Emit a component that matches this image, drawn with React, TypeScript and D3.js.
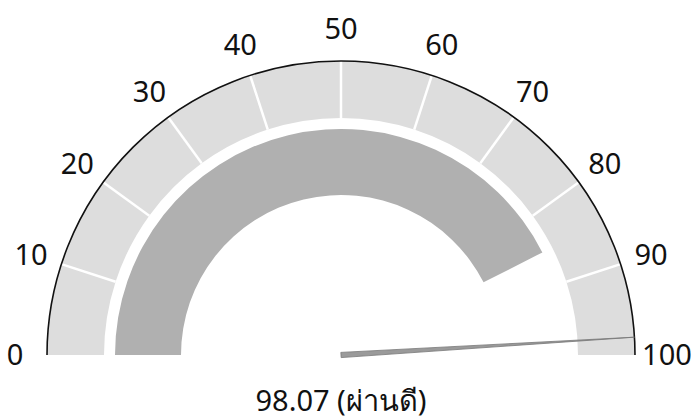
import { useEffect, useRef } from 'react';
import * as d3 from 'd3';

const TICKS = [0, 10, 20, 30, 40, 50, 60, 70, 80, 90, 100];
const VALUE = 98.07;
const STATUS = 'ผ่านดี';
const BAND_RANGE = [0, 85];

const WIDTH = 691;
const HEIGHT = 419;

export default function App() {
  const svgRef = useRef<SVGSVGElement>(null);

  useEffect(() => {
    if (!svgRef.current) return;

    const svg = d3.select(svgRef.current);
    svg.selectAll('*').remove();

    const cx = 341;
    const cy = 355;
    const outerR = 294;
    const ringInner = 237;
    const bandOuter = 226;
    const bandInner = 160;
    const labelR = 326;
    const font = '"Noto Sans", "DejaVu Sans", sans-serif';

    const angle = d3.scaleLinear().domain([0, 100]).range([-Math.PI / 2, Math.PI / 2]);

    const g = svg.append('g').attr('transform', `translate(${cx}, ${cy})`);

    // outer light ring
    const ring = d3.arc<{ a: number; b: number }>()
      .innerRadius(ringInner)
      .outerRadius(outerR)
      .startAngle(d => angle(d.a))
      .endAngle(d => angle(d.b));

    const segments = d3.pairs(TICKS).map(([a, b]) => ({ a, b }));
    g.selectAll('path.seg')
      .data(segments)
      .enter()
      .append('path')
      .attr('class', 'seg')
      .attr('d', ring)
      .attr('fill', '#dddddd');

    // white dividers
    g.selectAll('line.div')
      .data(TICKS.slice(1, -1))
      .enter()
      .append('line')
      .attr('x1', d => ringInner * Math.sin(angle(d)))
      .attr('y1', d => -ringInner * Math.cos(angle(d)))
      .attr('x2', d => outerR * Math.sin(angle(d)))
      .attr('y2', d => -outerR * Math.cos(angle(d)))
      .attr('stroke', '#fff')
      .attr('stroke-width', 2.5);

    // inner darker band
    const band = d3.arc()
      .innerRadius(bandInner)
      .outerRadius(bandOuter)
      .startAngle(angle(BAND_RANGE[0]))
      .endAngle(angle(BAND_RANGE[1]));
    g.append('path')
      .attr('d', band({} as any) as string)
      .attr('fill', '#b0b0b0');

    // outer axis line
    const axisArc = d3.arc()
      .innerRadius(outerR)
      .outerRadius(outerR)
      .startAngle(angle(0))
      .endAngle(angle(100));
    g.append('path')
      .attr('d', axisArc({} as any) as string)
      .attr('fill', 'none')
      .attr('stroke', '#111')
      .attr('stroke-width', 1.6);

    // tick labels
    g.selectAll('text.tick')
      .data(TICKS)
      .enter()
      .append('text')
      .attr('class', 'tick')
      .attr('x', d => labelR * Math.sin(angle(d)))
      .attr('y', d => -labelR * Math.cos(angle(d)))
      .attr('dy', '0.36em')
      .attr('text-anchor', 'middle')
      .attr('font-family', font)
      .attr('font-size', 29)
      .attr('fill', '#111')
      .text(d => d);

    // needle
    const a = angle(VALUE);
    const tipX = outerR * Math.sin(a);
    const tipY = -outerR * Math.cos(a);
    const nx = Math.cos(a);
    const ny = Math.sin(a);
    const w = 2.6;
    const needle = d3.path();
    needle.moveTo(nx * w, ny * w);
    needle.lineTo(tipX, tipY);
    needle.lineTo(-nx * w, -ny * w);
    needle.closePath();
    g.append('path')
      .attr('d', needle.toString())
      .attr('fill', '#9a9a9a')
      .attr('stroke', '#777')
      .attr('stroke-width', 0.8)
      .attr('stroke-linejoin', 'round');

    // value label
    svg.append('text')
      .attr('x', cx)
      .attr('y', 411)
      .attr('text-anchor', 'middle')
      .attr('font-family', font)
      .attr('font-size', 29)
      .attr('fill', '#111')
      .text(`${VALUE.toFixed(2)} (${STATUS})`);
  }, []);

  return (
    <svg
      ref={svgRef}
      width={WIDTH}
      height={HEIGHT}
      style={{ position: 'absolute', left: 0, top: 0, background: '#fff' }}
    />
  );
}
